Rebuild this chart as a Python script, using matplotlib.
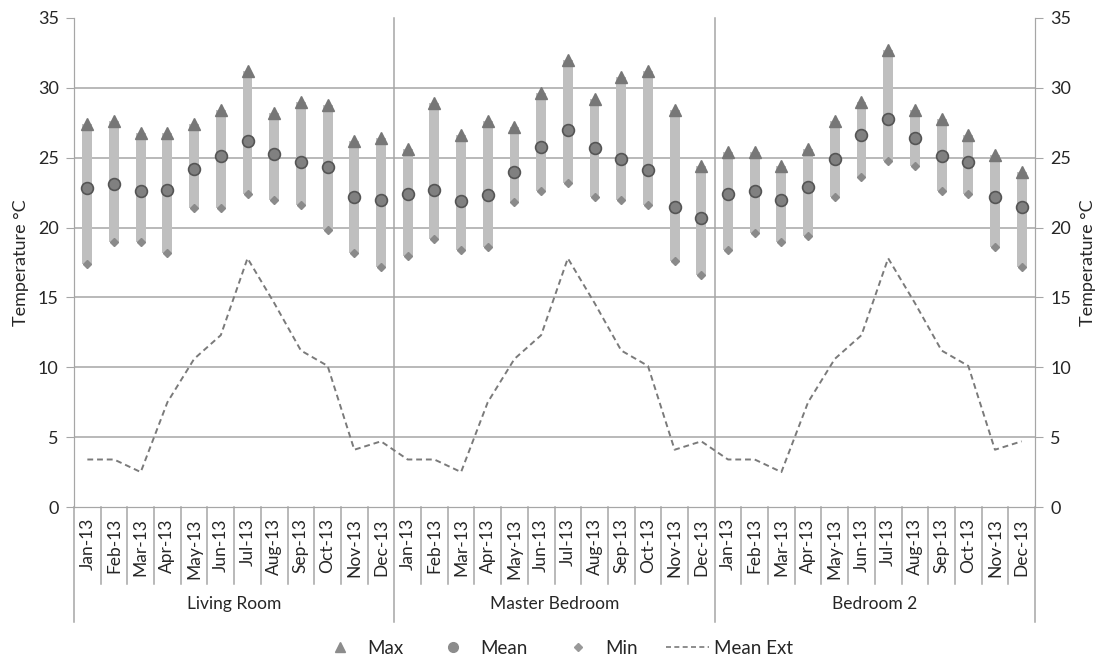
import numpy as np
import matplotlib
matplotlib.use('Agg')
import matplotlib.pyplot as plt
from matplotlib.lines import Line2D
import matplotlib.transforms as mtransforms

plt.rcParams['font.family'] = ['Lato', 'DejaVu Sans']

# 数据
rooms = ['Living Room', 'Master Bedroom', 'Bedroom 2']
months = ['Jan-13', 'Feb-13', 'Mar-13', 'Apr-13', 'May-13', 'Jun-13',
          'Jul-13', 'Aug-13', 'Sep-13', 'Oct-13', 'Nov-13', 'Dec-13']

max_lr = [27.4, 27.6, 26.8, 26.8, 27.4, 28.4, 31.2, 28.2, 29.0, 28.8, 26.2, 26.4]
mean_lr = [22.8, 23.1, 22.6, 22.7, 24.2, 25.1, 26.2, 25.3, 24.7, 24.3, 22.2, 22.0]
min_lr = [17.4, 19.0, 19.0, 18.2, 21.4, 21.4, 22.4, 22.0, 21.6, 19.8, 18.2, 17.2]

max_mb = [25.6, 28.9, 26.6, 27.6, 27.2, 29.6, 32.0, 29.2, 30.8, 31.2, 28.4, 24.4]
mean_mb = [22.4, 22.7, 21.9, 22.3, 24.0, 25.8, 27.0, 25.7, 24.9, 24.1, 21.5, 20.7]
min_mb = [18.0, 19.2, 18.4, 18.6, 21.8, 22.6, 23.2, 22.2, 22.0, 21.6, 17.6, 16.6]

max_b2 = [25.4, 25.4, 24.4, 25.6, 27.6, 29.0, 32.7, 28.4, 27.8, 26.6, 25.2, 24.0]
mean_b2 = [22.4, 22.6, 22.0, 22.9, 24.9, 26.6, 27.8, 26.4, 25.1, 24.7, 22.2, 21.5]
min_b2 = [18.4, 19.6, 19.0, 19.4, 22.2, 23.6, 24.8, 24.4, 22.6, 22.4, 18.6, 17.2]

mean_ext = [3.4, 3.4, 2.5, 7.5, 10.6, 12.3, 17.8, 14.6, 11.2, 10.1, 4.1, 4.7]

t_max = np.array(max_lr + max_mb + max_b2)
t_mean = np.array(mean_lr + mean_mb + mean_b2)
t_min = np.array(min_lr + min_mb + min_b2)
t_ext = np.array(mean_ext * 3)
x = np.arange(len(t_max))
n = len(months)

GRID = '#a6a6a6'
TXT = '#262626'

fig = plt.figure(figsize=(11.01, 6.59), dpi=100)
ax = fig.add_axes([74 / 1101, 152 / 659, 961 / 1101, 489 / 659])

# 网格线
for v in range(5, 35, 5):
    ax.axhline(v, color=GRID, lw=1.1, zorder=0)

# min-max 区间条
ax.bar(x, t_max - t_min, bottom=t_min, width=0.37, color='#bfbfbf', zorder=2)
ax.plot(x, t_max, linestyle='none', marker='^', ms=8, color='#777777', zorder=3)
ax.plot(x, t_mean, linestyle='none', marker='o', ms=8.5, mfc='#808080',
        mec='#555555', mew=1.2, zorder=3)
ax.plot(x, t_min, linestyle='none', marker='D', ms=4.5, color='#8a8a8a', zorder=3)
ax.plot(x, t_ext, color='#7a7a7a', lw=1.4, dashes=(3, 2), zorder=3)

ax.set_xlim(-0.5, len(x) - 0.5)
ax.set_ylim(0, 35)
ax.set_yticks(range(0, 36, 5))
ax.tick_params(axis='y', length=6, color=GRID, labelsize=13, labelcolor=TXT, pad=5)
ax.set_ylabel('Temperature °C', fontsize=13, color=TXT, labelpad=6)

# 右侧坐标轴
ax2 = ax.twinx()
ax2.set_ylim(0, 35)
ax2.set_yticks(range(0, 36, 5))
ax2.tick_params(axis='y', length=6, color=GRID, labelsize=13, labelcolor=TXT, pad=5)
ax2.set_ylabel('Temperature °C', fontsize=13, color=TXT, labelpad=6, rotation=90)

for a in (ax, ax2):
    for s in a.spines.values():
        s.set_color(GRID)
    a.spines['top'].set_visible(False)

# 月份标签
ax.set_xticks(x)
ax.set_xticklabels(months * 3, rotation=90, fontsize=12.5, color=TXT)
ax.tick_params(axis='x', length=0, pad=8)

# 类别分隔线
trans = mtransforms.blended_transform_factory(ax.transData, ax.transAxes)
for b in np.arange(-0.5, len(x), 1.0):
    k = int(b + 0.5)
    if k % n == 0:
        y0, y1 = -0.235, 1.0
        if k in (0, len(x)):
            y1 = 0.0
    else:
        y0, y1 = -0.158, 0.0
    ax.add_line(Line2D([b, b], [y0, y1], transform=trans, color=GRID,
                       lw=1.1, clip_on=False, zorder=1))

for i, r in enumerate(rooms):
    ax.text(i * n + (n - 1) / 2, -0.198, r, transform=trans, ha='center',
            va='center', fontsize=12.5, color=TXT)

# 图例
handles = [
    Line2D([], [], linestyle='none', marker='^', ms=7, color='#8c8c8c'),
    Line2D([], [], linestyle='none', marker='o', ms=7, color='#8c8c8c'),
    Line2D([], [], linestyle='none', marker='D', ms=4, color='#999999'),
    Line2D([], [], color='#7a7a7a', lw=1.2, dashes=(3, 2)),
]
fig.legend(handles, ['Max', 'Mean', 'Min', 'Mean Ext'], loc='center',
           bbox_to_anchor=(0.505, 1 - 648 / 659), ncol=4, frameon=False,
           fontsize=13.5, columnspacing=1.5, handlelength=2.3, handletextpad=0.3,
           labelcolor=TXT)

fig.savefig('out.png', dpi=100)
